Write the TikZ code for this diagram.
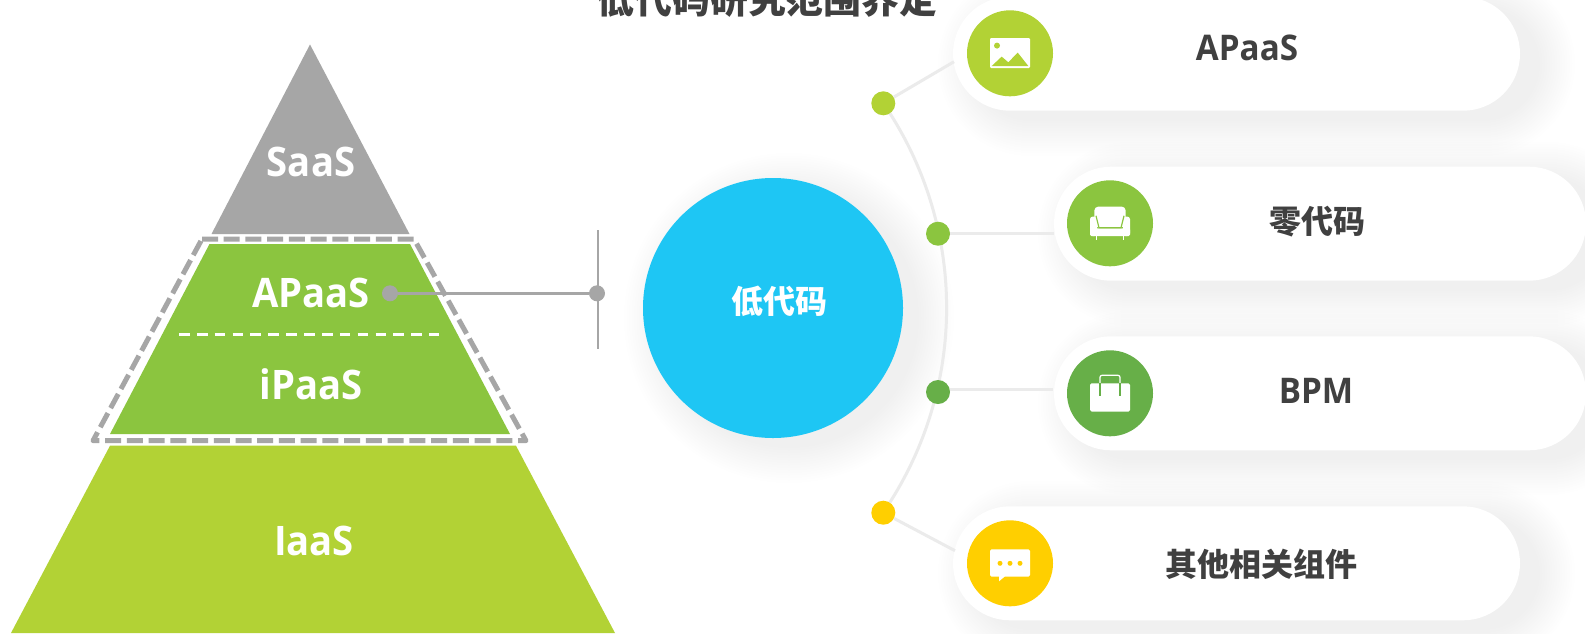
\documentclass[tikz,border=0pt]{standalone}
\usepackage{fontspec}
\setmainfont{Open Sans}[FakeStretch=0.94]
\newfontfamily\cjk{Noto Sans CJK SC}
\usetikzlibrary{shapes.misc}
\definecolor{lime}{HTML}{B2D235}
\definecolor{leaf}{HTML}{8BC53F}
\definecolor{moss}{HTML}{67AF48}
\definecolor{sun}{HTML}{FFCF00}
\definecolor{sky}{HTML}{1EC6F4}
\definecolor{ash}{HTML}{A6A6A6}
\definecolor{ink}{HTML}{404040}
\definecolor{rail}{HTML}{EBEBEB}
\newcommand{\pillshadow}[3]{
\foreach \e in {0,5,...,70}
\draw[black,opacity=.005,line cap=round,line width={(114+\e)*.75pt}] (#1+20,#3+10)--(#2+20,#3+10);
}
\tikzset{
lab/.style={text=white,inner sep=0,font=\fontsize{30.5pt}{32pt}\selectfont\bfseries},
inklab/.style={text=ink,inner sep=0,font=\fontsize{26.5pt}{28pt}\selectfont\bfseries},
cjklab/.style={text=ink,inner sep=0,font=\fontsize{24pt}{26pt}\selectfont\cjk\bfseries},
pill/.style={rounded rectangle,fill=white,inner sep=0,minimum height=85.5pt},
disc/.style={circle,inner sep=0,minimum size=64.5pt,fill=#1},
dot/.style={circle,inner sep=0,minimum size=18pt,fill=#1},
knob/.style={circle,inner sep=0,minimum size=12pt,fill=ash},
link/.style={draw=rail,line width=2.25pt}
}
\begin{document}
\begin{tikzpicture}[x=.75pt,y=-.75pt]
\useasboundingbox (0,0) rectangle (1585,633);
\fill[white] (0,0) rectangle (1585,633);
\foreach \e in {0,5,...,70}
\fill[black,opacity=.005] (789,318) circle[radius=130+\e/2];
\pillshadow{1010}{1463}{53.7}
\pillshadow{1110}{1529}{223.7}
\pillshadow{1110}{1529}{393.3}
\pillshadow{1010}{1463}{563.3}
\fill[ash] (310,44.5)--(409.5,234)--(211.5,234)--cycle;
\fill[leaf] (209.5,244)--(410,244)--(510,434)--(110,434)--cycle;
\fill[lime] (110,445.7)--(516,445.7)--(615,633)--(11,633)--cycle;
\draw[ash,line width=3.75pt,line join=round,dash pattern=on 12pt off 4.3pt] (202,239)--(414,239)--(526,440.7)--(93,440.7)--cycle;
\draw[white,line width=2.25pt,dash pattern=on 8pt off 5.4pt] (179,334)--(439,334);
\path
(311,162) node[lab] (saas) {SaaS}
(311,293) node[lab] (apaas) {APaaS}
(311,384) node[lab] (ipaas) {iPaaS}
(314,541) node[lab] (iaas) {IaaS}
(767,-1) node[cjklab,font=\fontsize{28.4pt}{30pt}\selectfont\cjk\bfseries] (title) {低代码研究范围界定}
(390,293.3) node[knob] (k1) {}
(597,293.3) node[knob] (k2) {}
(598,230) coordinate (v1)
(598,349) coordinate (v2)
;
\draw[ash,line width=1.1pt] (v1)--(v2);
\draw[ash,line width=2.25pt] (k1)--(k2);
\path (883.3,103.3) coordinate (a1);
\draw[rail,line width=2.25pt] (a1) arc[start angle=-34.4,end angle=34.4,radius=362];
\path
(773,308) node[circle,fill=sky,minimum size=195pt,inner sep=0] (low) {}
(779,301) node[text=white,inner sep=0,font=\fontsize{24pt}{26pt}\selectfont\cjk\bfseries] (lowlab) {低代码}
(1236.5,53.7) node[pill,minimum width=425.25pt] (p1) {}
(1320,223.7) node[pill,minimum width=399pt] (p2) {}
(1320,393.3) node[pill,minimum width=399pt] (p3) {}
(1236.5,563.3) node[pill,minimum width=425.25pt] (p4) {}
(1010,53.3) node[disc=lime] (c1) {}
(1110,223.3) node[disc=leaf] (c2) {}
(1110,393.3) node[disc=moss] (c3) {}
(1010,563.3) node[disc=sun] (c4) {}
(1247,48) node[inklab] (t1) {APaaS}
(1317,221.5) node[cjklab] (t2) {零代码}
(1316,391) node[inklab] (t3) {BPM}
(1261.5,564) node[cjklab] (t4) {其他相关组件}
(a1) node[dot=lime] (d1) {}
(938,233.7) node[dot=leaf] (d2) {}
(938,392) node[dot=moss] (d3) {}
(883.3,512.7) node[dot=sun] (d4) {}
(954,61.7) coordinate (e1)
(1054,233.7) coordinate (e2)
(1053,389.7) coordinate (e3)
(955,550.7) coordinate (e4)
;
\draw[link] (d1)--(e1);
\draw[link] (d2)--(e2);
\draw[link] (e3-|d3.east)--(e3);
\draw[link] (d4)--(e4);
\begin{scope}[shift={(1010,53.3)}]
\fill[white,rounded corners=.8pt] (-20,-15.3) rectangle (20,14.7);
\fill[lime] (-13,-7.7) circle[radius=3];
\fill[lime] (-18.3,12.7)--(-8.3,3.3)--(-1.7,9)--(7.7,-.7)--(18.3,12.7)--cycle;
\end{scope}
\begin{scope}[shift={(1110,223.3)}]
\fill[white,rounded corners=3pt] (-15.7,-16.7) rectangle (15.7,4);
\fill[white,rounded corners=2pt] (-20,-6.7) rectangle (-13,12.7);
\fill[white,rounded corners=2pt] (13,-6.7) rectangle (20,12.7);
\fill[white,rounded corners=1pt] (-20,5) rectangle (20,12.7);
\draw[leaf,line width=.9pt] (-14,-7.5)--(-11,4.5)--(11,4.5)--(14,-7.5);
\draw[white,line width=.8pt] (-13.3,12)--(-13.3,16.7) (13.3,12)--(13.3,16.7);
\end{scope}
\begin{scope}[shift={(1110,393.3)}]
\fill[white,rounded corners=1.2pt] (-20,-10) rectangle (20,18.3);
\draw[white,line width=.9pt,rounded corners=1.5pt] (-10,-10)--(-10,-18)--(10,-18)--(10,-10);
\draw[moss,line width=.8pt] (-10,-10)--(-10,2.7) (10,-10)--(10,2.7);
\end{scope}
\begin{scope}[shift={(1010,563.3)}]
\fill[white,rounded corners=1.2pt] (-20,-14) rectangle (20,13.3);
\fill[white] (-11,12)--(-11,18)--(-5,13)--cycle;
\foreach \i in {-10,0,10}
\fill[sun] (\i,0) circle[radius=2.5];
\end{scope}
\end{tikzpicture}
\end{document}
